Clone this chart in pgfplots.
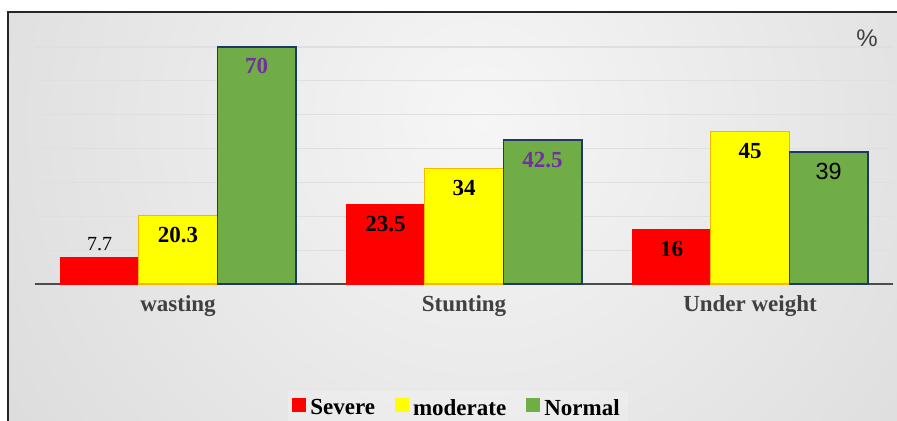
\documentclass[border=0pt]{standalone}
\usepackage{fontspec}
\setmainfont{Liberation Serif}
\newfontfamily\arialfont{Liberation Sans}
\usepackage{pgfplots}
\pgfplotsset{compat=1.18}
\definecolor{sevred}{HTML}{FF0000}
\definecolor{modyellow}{HTML}{FFFF00}
\definecolor{modedge}{HTML}{F5B800}
\definecolor{normgreen}{HTML}{70AD47}
\definecolor{normedge}{HTML}{203864}
\definecolor{lblpurple}{HTML}{7030A0}
\definecolor{cattext}{HTML}{404040}
\definecolor{bginner}{HTML}{F6F6F6}
\definecolor{bgouter}{HTML}{C6C6C6}

\begin{document}
\begin{tikzpicture}
% background panel (units of 0.5pt, origin at top-left, y downwards)
\begin{scope}[x=0.5pt,y=-0.5pt,shift={(-17.5pt,142pt)}]
  \begin{scope}
    \clip (8,12) rectangle (897,421);
    \shade[inner color=bginner, outer color=bgouter] (480,120) circle (1060);
  \end{scope}
\end{scope}

\begin{axis}[
  at={(0,0)}, anchor=south west,
  width=429pt, height=135.45pt, scale only axis,
  xmin=-0.5, xmax=2.5, ymin=0, ymax=80,
  ybar=0pt, bar width=39.25pt,
  xtick=data,
  xticklabels={wasting, Stunting, Under weight},
  xticklabel style={font=\bfseries\fontsize{11.5}{13}\selectfont, text=cattext, yshift=-2pt},
  ytick={10,20,...,70}, yticklabels={},
  ymajorgrids, grid style={gray!25, line width=0.6pt},
  axis line style={draw=none}, major tick length=0pt,
  clip=false,
  nodes near coords={\pgfmathprintnumber[assume math mode=true]{\pgfplotspointmeta}},
  every node near coord/.append style={anchor=center, yshift=-9.75pt,
    font=\bfseries\fontsize{11.5}{13}\selectfont},
  legend image code/.code={\fill[#1, draw=none, fill opacity=1] (0pt,-1.5pt) rectangle (7pt,5.5pt);},
  legend style={at={(0.493,-0.461)}, anchor=center, legend columns=3,
    draw=none, fill=white, fill opacity=0.2, text opacity=1, inner sep=2pt,
    font=\bfseries\fontsize{11.5}{13}\selectfont,
    /tikz/every even column/.append style={column sep=8pt},
    nodes={inner xsep=2pt}},
]
  % baseline under the bars
  \draw[line width=1pt, gray!60!black] (rel axis cs:0,0) -- (rel axis cs:1,0);

  \addplot[fill=sevred, draw=sevred, line width=0.6pt,
    coordinate style/.condition={\coordindex==0}{yshift=16.75pt, text=black,
      execute at begin node={\mdseries\fontsize{10}{12}\selectfont}}]
    coordinates {(0,7.7) (1,23.5) (2,16)};
  \addplot[fill=modyellow, draw=modedge, line width=0.6pt]
    coordinates {(0,20.3) (1,34) (2,45)};
  \addplot[fill=normgreen, draw=normedge, line width=0.75pt,
    coordinate style/.condition={\coordindex<2}{text=lblpurple},
    coordinate style/.condition={\coordindex==2}{text=black,
      execute at begin node={\arialfont\mdseries\fontsize{11.7}{13}\selectfont}}]
    coordinates {(0,70) (1,42.5) (2,39)};
  \legend{Severe, moderate, Normal}
\end{axis}

\begin{scope}[x=0.5pt,y=-0.5pt,shift={(-17.5pt,142pt)}]
  \node[text=cattext, font=\arialfont\fontsize{12}{14}\selectfont] at (867,38) {\%};
  \draw[line width=1pt, black!85] (8,12) rectangle (915,440);
  \pgfresetboundingbox
  \useasboundingbox (0,0) rectangle (897,421);
\end{scope}
\end{tikzpicture}
\end{document}
